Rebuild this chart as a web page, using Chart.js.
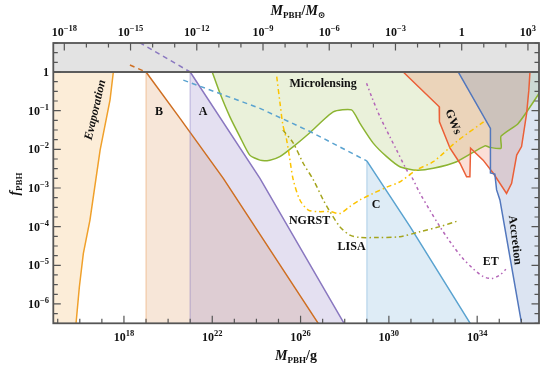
<!DOCTYPE html>
<html>
<head>
<meta charset="utf-8">
<script src="https://cdn.jsdelivr.net/npm/chart.js@4.4.1/dist/chart.umd.min.js"></script>
<style>
  html, body { margin: 0; padding: 0; background: #fff; }
  #wrap { width: 545px; height: 368px; }
</style>
</head>
<body>
<div id="wrap"><canvas id="myChart" width="545" height="368"></canvas></div>
<script>
// every curve is a list of [log10(M_PBH / g), log10(f_PBH)] pairs
const MSUN = 33.2987;              // log10 of one solar mass in grams
const X_RANGE = [14.8, 36.8];
const Y_RANGE = [-6.5, 0.75];

const evaporation = [[14.5,-8],[15.59,-8],[15.83,-6.5],[15.98,-5.56],[16.16,-4.70],[16.46,-3.83],[16.92,-2.02],[17.37,-0.72],[17.52,0]];
const regionB = [[19,-8],[19,0],[20.54,-1.2],[22.5,-2.75],[26.8,-6.5],[27.0,-6.7]];
const regionBDashed = [[18.27,0.18],[19,0]];
const regionA = [[21,-8],[21,0],[24.16,-2.75],[27.97,-6.5],[28.2,-6.75]];
const regionADashed = [[18.71,0.76],[21,0]];
const regionC = [[29,-8],[29,-2.30],[30.96,-4.0],[33.67,-6.49],[33.9,-6.7]];
const regionCDashed = [[20.69,-0.21],[24.16,-0.94],[26.43,-1.54],[29,-2.30]];
const microlensing = [[22.0,0],[22.35,-0.55],[22.8,-1.16],[23.25,-1.67],[23.7,-2.15],[24.16,-2.28],[24.61,-2.28],[25.06,-2.19],[25.67,-1.93],[26.42,-1.57],[27.48,-1.03],[28.31,-0.98],[28.69,-1.33],[29.29,-1.84],[29.9,-2.19],[30.5,-2.45],[31.26,-2.54],[32.01,-2.49],[33.07,-2.32],[34.35,-1.91],[34.58,-1.95],[35.08,-1.97],[35.08,-1.66],[35.86,-1.33],[36.81,-0.55]];
const gws = [[30.65,0],[32.28,-0.9],[32.29,-1.29],[32.77,-1.97],[33.22,-2.36],[33.52,-2.71],[33.67,-2.71],[33.7,-1.97],[34.27,-2.28],[34.73,-2.62],[35.33,-3.14],[35.56,-2.88],[35.79,-2.15],[36.01,-1.93],[36.24,-1.07],[36.34,-0.47],[36.39,0]];
const accretion = [[33.14,0],[34.6,-1.46],[34.6,-2.61],[34.8,-2.64],[34.88,-3.05],[35.03,-3.31],[36.01,-6.5],[36.47,-8],[37,-8]];
const ngrst = [[24.92,-0.12],[25.07,-0.81],[25.2,-1.37],[25.37,-1.76],[25.52,-2.28],[25.67,-2.79],[25.97,-3.31],[26.35,-3.57],[26.8,-3.61],[27.33,-3.61],[27.78,-3.66],[28.23,-3.48],[28.69,-3.31],[29.29,-3.14],[29.9,-2.98],[30.5,-2.84],[31.26,-2.53],[32.01,-2.32],[33.07,-1.8],[34.31,-1.28]];
const lisa = [[25.2,-1.5],[25.67,-1.84],[26.12,-2.36],[26.58,-2.79],[27.03,-3.31],[27.33,-3.61],[27.78,-4.0],[28.24,-4.22],[28.69,-4.28],[29.45,-4.28],[30.5,-4.26],[31.41,-4.13],[32.31,-4.0],[33.14,-3.85]];
const et = [[28.99,-0.29],[29.22,-0.64],[29.6,-1.16],[30.05,-1.68],[30.35,-2.02],[30.81,-2.54],[31.03,-2.71],[31.41,-3.14],[31.86,-3.58],[32.31,-4.0],[32.77,-4.39],[33.3,-4.79],[33.82,-5.09],[34.27,-5.29],[34.66,-5.34],[35.03,-5.25],[35.3,-5.1]];
const band = [[X_RANGE[0],0],[X_RANGE[1],0]];

// axis ticks (exponents)
const bottomTicks = [15,16,17,18,19,20,21,22,23,24,25,26,27,28,29,30,31,32,33,34,35,36];
const bottomLabels = [18,22,26,30,34];
const topTicks = [-18,-17,-16,-15,-14,-13,-12,-11,-10,-9,-8,-7,-6,-5,-4,-3,-2,-1,0,1,2,3];
const topLabels = [-18,-15,-12,-9,-6,-3,0,3];
const leftLabels = [0,-1,-2,-3,-4,-5,-6];

const regionLabels = [
  { text: 'Evaporation', x: 16.71, y: -0.98, rot: -77, italic: true },
  { text: 'B', x: 19.59, y: -1.04 },
  { text: 'A', x: 21.58, y: -1.04 },
  { text: 'Microlensing', x: 27.02, y: -0.31 },
  { text: 'GWs', x: 32.9, y: -1.29, rot: 68 },
  { text: 'C', x: 29.42, y: -3.44 },
  { text: 'NGRST', x: 26.41, y: -3.86 },
  { text: 'LISA', x: 28.31, y: -4.52 },
  { text: 'ET', x: 34.62, y: -4.91 },
  { text: 'Accretion', x: 35.71, y: -4.35, rot: 83 }
];

const SERIF = '"Liberation Serif", "DejaVu Serif", serif';
const P = a => a.map(([lx, ly]) => ({ x: 10 ** lx, y: 10 ** ly }));

function line(data, color, extra) {
  return Object.assign({ data: P(data), borderColor: color, borderWidth: 1.5, pointRadius: 0, fill: false, tension: 0 }, extra);
}
// first segment (the vertical edge) drawn in a paler colour
const paleEdge = pale => ({ borderColor: c => c.p0DataIndex === 0 ? pale : undefined });

const datasets = [
  line(band, '#5c5c5c', { fill: 'end', backgroundColor: '#e3e3e3', borderWidth: 2 }),
  line(regionBDashed, '#cf6f22', { borderDash: [5, 4] }),
  line(regionADashed, '#8a78c0', { borderDash: [5, 4] }),
  line(regionCDashed, '#5aa3d0', { borderDash: [5, 4] }),
  line(ngrst, '#fcc300', { borderDash: [5, 3, 1.5, 3], tension: 0.3 }),
  line(lisa, '#a4a41c', { borderDash: [5, 3, 1.5, 3], tension: 0.3 }),
  line(et, '#b466b8', { borderDash: [3, 3, 1.5, 3], tension: 0.3 }),
  line(accretion, '#5277bd', { fill: 'end', backgroundColor: 'rgba(80,120,190,0.2)' }),
  line(gws, '#eb5f37', { fill: 'end', backgroundColor: 'rgba(235,95,55,0.2)' }),
  line(microlensing, '#8cb432', { fill: 'end', backgroundColor: 'rgba(140,180,50,0.18)', tension: 0.2 }),
  line(regionC, '#5aa3d0', { fill: 'start', backgroundColor: 'rgba(90,160,210,0.2)', segment: paleEdge('rgba(90,160,210,0.3)') }),
  line(regionA, '#8a78c0', { fill: 'start', backgroundColor: 'rgba(130,115,190,0.22)', segment: paleEdge('rgba(130,115,190,0.35)') }),
  line(regionB, '#cf6f22', { fill: 'start', backgroundColor: 'rgba(215,130,60,0.2)', segment: paleEdge('rgba(230,150,80,0.35)') }),
  line(evaporation, '#f0a02a', { fill: 'end', backgroundColor: 'rgba(240,165,60,0.2)' })
];

function drawRich(ctx, parts, x, y, align) {
  let w = 0;
  parts.forEach(p => { ctx.font = p.font; p.w = ctx.measureText(p.t).width; w += p.w; });
  let cx = align === 'right' ? x - w : align === 'center' ? x - w / 2 : x;
  ctx.textAlign = 'left';
  ctx.textBaseline = 'alphabetic';
  parts.forEach(p => { ctx.font = p.font; ctx.fillText(p.t, cx, y + (p.dy || 0)); cx += p.w; });
}
const pow = e => e === 0 ? [{ t: '1', font: 'bold 12px ' + SERIF }]
  : [{ t: '10', font: 'bold 12px ' + SERIF }, { t: String(e).replace('-', '\u2212'), font: 'bold 8.5px ' + SERIF, dy: -5 }];

const axesPlugin = {
  id: 'axesPlugin',
  afterDraw(chart) {
    const { ctx, chartArea: a, scales: { x, y } } = chart;
    ctx.save();
    ctx.strokeStyle = '#555';
    ctx.fillStyle = '#111';
    ctx.lineWidth = 1.2;
    ctx.beginPath();
    bottomTicks.forEach(e => {
      const px = x.getPixelForValue(10 ** e);
      const len = bottomLabels.includes(e) ? 7.5 : 4.5;
      ctx.moveTo(px, a.bottom); ctx.lineTo(px, a.bottom - len);
    });
    topTicks.forEach(e => {
      const px = x.getPixelForValue(10 ** (e + MSUN));
      const len = topLabels.includes(e) ? 7.5 : 4.5;
      ctx.moveTo(px, a.top); ctx.lineTo(px, a.top + len);
    });
    for (let q = Y_RANGE[1] * 4; q >= Y_RANGE[0] * 4; q--) {
      const py = y.getPixelForValue(10 ** (q / 4));
      const len = q % 4 === 0 ? 7.5 : 4.5;
      ctx.moveTo(a.left, py); ctx.lineTo(a.left + len, py);
      ctx.moveTo(a.right, py); ctx.lineTo(a.right - len, py);
    }
    ctx.stroke();
    ctx.lineWidth = 1.8;
    ctx.strokeRect(a.left, a.top, a.right - a.left, a.bottom - a.top);

    bottomLabels.forEach(e => drawRich(ctx, pow(e), x.getPixelForValue(10 ** e), 341, 'center'));
    topLabels.forEach(e => drawRich(ctx, pow(e), x.getPixelForValue(10 ** (e + MSUN)), 35.5, 'center'));
    leftLabels.forEach(e => drawRich(ctx, pow(e), 49, y.getPixelForValue(10 ** e) + 4, 'right'));

    const bi = 'italic bold 14px ' + SERIF, b = 'bold 14px ' + SERIF, s = 'bold 9px ' + SERIF;
    drawRich(ctx, [{ t: 'M', font: bi }, { t: 'PBH', font: s, dy: 3 }, { t: '/g', font: b }], 296, 360, 'center');
    drawRich(ctx, [{ t: 'M', font: bi }, { t: 'PBH', font: s, dy: 3 }, { t: '/', font: b }, { t: 'M', font: bi }, { t: '\u2299', font: s, dy: 3 }], 298, 15, 'center');
    ctx.save();
    ctx.translate(19, 184);
    ctx.rotate(-Math.PI / 2);
    drawRich(ctx, [{ t: 'f', font: bi }, { t: 'PBH', font: s, dy: 3 }], 0, 0, 'center');
    ctx.restore();

    // region names
    regionLabels.forEach(l => {
      ctx.save();
      ctx.translate(x.getPixelForValue(10 ** l.x), y.getPixelForValue(10 ** l.y));
      if (l.rot) ctx.rotate(l.rot * Math.PI / 180);
      ctx.font = (l.italic ? 'italic ' : '') + 'bold 12px ' + SERIF;
      ctx.textAlign = 'center';
      ctx.textBaseline = 'middle';
      ctx.fillStyle = '#111';
      ctx.fillText(l.text, 0, 0);
      ctx.restore();
    });
    ctx.restore();
  }
};

new Chart(document.getElementById('myChart').getContext('2d'), {
  type: 'line',
  data: { datasets },
  options: {
    responsive: false,
    animation: false,
    events: [],
    layout: { padding: { left: 53.3, right: 6, top: 43, bottom: 44.7 } },
    plugins: {
      legend: { display: false },
      tooltip: { enabled: false },
      filler: { drawTime: 'beforeDatasetsDraw' }
    },
    scales: {
      x: { type: 'logarithmic', display: false, min: 10 ** X_RANGE[0], max: 10 ** X_RANGE[1] },
      y: { type: 'logarithmic', display: false, min: 10 ** Y_RANGE[0], max: 10 ** Y_RANGE[1] }
    }
  },
  plugins: [axesPlugin]
});
</script>
</body>
</html>
